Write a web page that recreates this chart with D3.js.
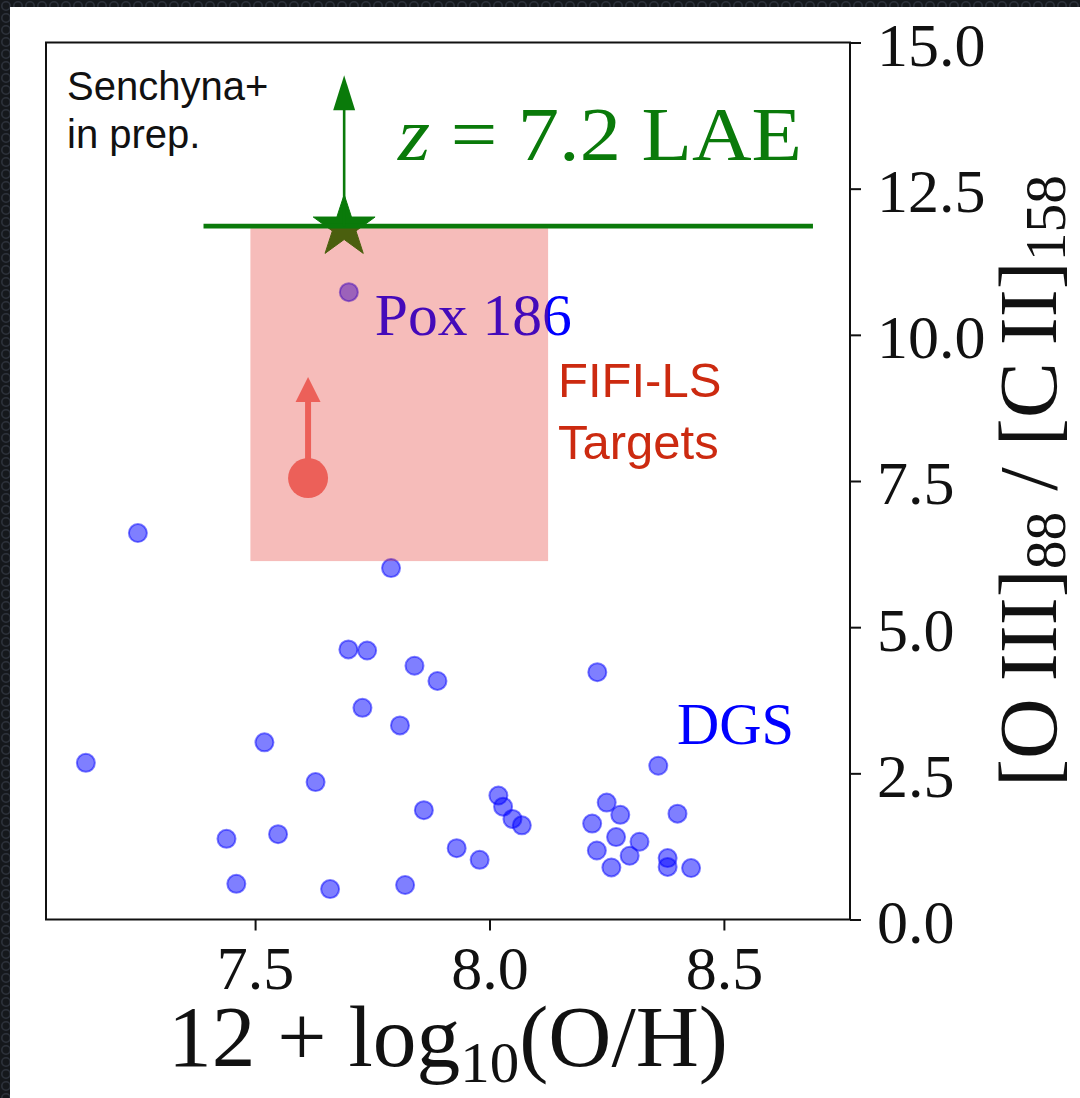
<!DOCTYPE html>
<html>
<head>
<meta charset="utf-8">
<script src="https://cdn.jsdelivr.net/npm/d3@7"></script>
<style>
  html, body { margin: 0; padding: 0; background: #1c1f24; }
  svg { display: block; }
</style>
</head>
<body>
<script>
// Dwarf Galaxy Survey: metallicity vs [OIII]88 / [CII]158
const dgsOH = [7.139, 7.250, 7.439, 7.460, 7.520, 7.549, 7.629, 7.660, 7.699, 7.739,
               7.729, 7.790, 7.809, 7.820, 7.840, 7.860, 7.889, 7.930, 7.979, 8.019,
               8.029, 8.049, 8.069, 8.219, 8.229, 8.230, 8.250, 8.260, 8.270, 8.279,
               8.299, 8.320, 8.360, 8.380, 8.380, 8.401, 8.430];
const dgsRatio = [2.68, 6.61, 1.38, 0.61, 3.03, 1.46, 2.35, 0.52, 4.62, 4.60,
                  3.62, 6.01, 3.32, 0.59, 4.34, 1.87, 4.08, 1.22, 1.02, 2.12,
                  1.93, 1.72, 1.61, 1.64, 1.18, 4.23, 2.00, 0.89, 1.41, 1.79,
                  1.09, 1.33, 2.63, 1.05, 0.90, 1.81, 0.88];

// Pox 186
const poxOH = [7.70];
const poxRatio = [10.73];

// z = 7.2 LAE: lower limit on the ratio, metallicity range
const laeOH = [7.69];
const laeRatio = [11.86];
const laeArrowTo = [14.44];
const laeOHRange = [7.39, 8.69];

// FIFI-LS targets: lower limit point and target region
const fifiOH = [7.613];
const fifiRatio = [7.55];
const fifiArrowTo = [9.28];
const fifiBoxOH = [7.49, 8.125];
const fifiBoxRatio = [6.13, 11.86];

const xTicks = [7.5, 8.0, 8.5];
const yTicks = [0, 2.5, 5.0, 7.5, 10.0, 12.5, 15.0];
const xDomain = [7.054, 8.769];
const yDomain = [0, 15];

const W = 1080, H = 1098;
const serif = "'Liberation Serif', 'DejaVu Serif', serif";
const sans = "'Liberation Sans', Arial, sans-serif";

const svg = d3.select("body").append("svg")
  .attr("width", W).attr("height", H)
  .attr("viewBox", `0 0 ${W} ${H}`);

// textured dark surround
const defs = svg.append("defs");
const pat = defs.append("pattern")
  .attr("id", "mesh").attr("width", 12).attr("height", 12)
  .attr("patternUnits", "userSpaceOnUse");
pat.append("rect").attr("width", 12).attr("height", 12).attr("fill", "#15181c");
pat.append("circle").attr("cx", 6).attr("cy", 6).attr("r", 4.2)
  .attr("fill", "none").attr("stroke", "#2c313a").attr("stroke-width", 1.6);
svg.append("rect").attr("width", W).attr("height", H).attr("fill", "url(#mesh)");
svg.append("rect").attr("x", 10).attr("y", 7).attr("width", W - 10).attr("height", H - 7)
  .attr("fill", "#ffffff");

const plot = { left: 46, right: 850, top: 42.5, bottom: 919.5 };
const x = d3.scaleLinear().domain(xDomain).range([plot.left, plot.right]);
const y = d3.scaleLinear().domain(yDomain).range([plot.bottom, plot.top]);

const g = svg.append("g");

// DGS galaxies
g.append("g").selectAll("circle")
  .data(dgsOH.map((v, i) => [v, dgsRatio[i]]))
  .join("circle")
  .attr("cx", d => x(d[0])).attr("cy", d => y(d[1])).attr("r", 9)
  .attr("fill", "#0000ff").attr("fill-opacity", 0.5)
  .attr("stroke", "#0000ff").attr("stroke-opacity", 0.5).attr("stroke-width", 2);

// Pox 186
g.append("g").selectAll("circle")
  .data(poxOH.map((v, i) => [v, poxRatio[i]]))
  .join("circle")
  .attr("cx", d => x(d[0])).attr("cy", d => y(d[1])).attr("r", 9)
  .attr("fill", "#0000ff").attr("fill-opacity", 0.5)
  .attr("stroke", "#0000ff").attr("stroke-opacity", 0.5).attr("stroke-width", 2);
g.append("text")
  .attr("x", x(poxOH[0]) + 26).attr("y", y(poxRatio[0]) + 43)
  .attr("font-family", serif).attr("font-size", 60).attr("fill", "#0000ff")
  .attr("textLength", 197).attr("lengthAdjust", "spacingAndGlyphs")
  .text("Pox 186");

// LAE star
function starPath(cx, cy, R) {
  const r = R * 0.381966;
  const pts = [];
  for (let k = 0; k < 10; k++) {
    const a = -Math.PI / 2 + k * Math.PI / 5;
    const rr = k % 2 === 0 ? R : r;
    pts.push([cx + rr * Math.cos(a), cy + rr * Math.sin(a)]);
  }
  return "M" + pts.map(p => p.join(",")).join("L") + "Z";
}
g.append("g").selectAll("path")
  .data(laeOH.map((v, i) => [v, laeRatio[i]]))
  .join("path")
  .attr("d", d => starPath(x(d[0]), y(d[1]) + 1, 32.5))
  .attr("fill", "#0a7a0a").attr("stroke", "#0a7a0a").attr("stroke-width", 1);

// FIFI-LS target region (translucent, drawn over the points beneath)
g.append("rect")
  .attr("x", x(fifiBoxOH[0])).attr("width", x(fifiBoxOH[1]) - x(fifiBoxOH[0]))
  .attr("y", y(fifiBoxRatio[1]) + 2).attr("height", y(fifiBoxRatio[0]) - y(fifiBoxRatio[1]) - 2)
  .attr("fill", "#e1201a").attr("fill-opacity", 0.3);

// LAE metallicity range line
g.append("line")
  .attr("x1", x(laeOHRange[0])).attr("x2", x(laeOHRange[1]))
  .attr("y1", y(laeRatio[0])).attr("y2", y(laeRatio[0]))
  .attr("stroke", "#0a7a0a").attr("stroke-width", 4.6);

// upward arrow helper (lower limits)
function upArrow(sel, cx, yFrom, yTip, shaftW, headW, headH, color) {
  sel.append("line")
    .attr("x1", cx).attr("x2", cx).attr("y1", yFrom).attr("y2", yTip + headH - 1)
    .attr("stroke", color).attr("stroke-width", shaftW);
  sel.append("path")
    .attr("d", `M${cx - headW / 2},${yTip + headH}L${cx},${yTip}L${cx + headW / 2},${yTip + headH}Z`)
    .attr("fill", color);
}
upArrow(g, x(laeOH[0]), y(laeRatio[0]), y(laeArrowTo[0]), 2.6, 22, 35, "#0a7a0a");

// FIFI-LS lower limit point
upArrow(g, x(fifiOH[0]), y(fifiRatio[0]), y(fifiArrowTo[0]), 6, 25, 25, "#ec6059");
g.append("circle")
  .attr("cx", x(fifiOH[0])).attr("cy", y(fifiRatio[0])).attr("r", 20)
  .attr("fill", "#ec6059");

// annotations
const ann = svg.append("g");
ann.append("text")
  .attr("x", 398).attr("y", 160)
  .attr("font-family", serif).attr("font-size", 76).attr("fill", "#0a7a0a")
  .attr("textLength", 404).attr("lengthAdjust", "spacingAndGlyphs")
  .call(t => {
    t.append("tspan").attr("font-style", "italic").text("z");
    t.append("tspan").text(" = 7.2 LAE");
  });

ann.append("text")
  .attr("x", 67).attr("y", 100)
  .attr("font-family", sans).attr("font-size", 40).attr("fill", "#111")
  .text("Senchyna+");
ann.append("text")
  .attr("x", 67).attr("y", 148)
  .attr("font-family", sans).attr("font-size", 40).attr("fill", "#111")
  .text("in prep.");

ann.append("text")
  .attr("x", 558).attr("y", 397)
  .attr("font-family", sans).attr("font-size", 49).attr("fill", "#cc2a10")
  .text("FIFI-LS");
ann.append("text")
  .attr("x", 558).attr("y", 459)
  .attr("font-family", sans).attr("font-size", 49).attr("fill", "#cc2a10")
  .text("Targets");

ann.append("text")
  .attr("x", 677).attr("y", 744)
  .attr("font-family", serif).attr("font-size", 60).attr("fill", "#0000ff")
  .attr("textLength", 117).attr("lengthAdjust", "spacingAndGlyphs")
  .text("DGS");

// frame
svg.append("rect")
  .attr("x", plot.left).attr("y", plot.top)
  .attr("width", plot.right - plot.left).attr("height", plot.bottom - plot.top)
  .attr("fill", "none").attr("stroke", "#111").attr("stroke-width", 2);

// axes
const fmt = d3.format(".1f");
const xAxis = svg.append("g")
  .attr("transform", `translate(0,${plot.bottom})`)
  .call(d3.axisBottom(x).tickValues(xTicks).tickFormat(fmt).tickSize(11).tickSizeOuter(0).tickPadding(14));
const yAxis = svg.append("g")
  .attr("transform", `translate(${plot.right},0)`)
  .call(d3.axisRight(y).tickValues(yTicks).tickFormat(fmt).tickSize(11).tickSizeOuter(0).tickPadding(16));
[xAxis, yAxis].forEach(a => {
  a.select(".domain").remove();
  a.selectAll(".tick line").attr("stroke", "#111").attr("stroke-width", 2);
  a.selectAll(".tick text").attr("font-family", serif).attr("font-size", 62).attr("fill", "#111");
});
yAxis.selectAll(".tick text").attr("dy", "0.37em");

// axis titles
svg.append("text")
  .attr("x", (plot.left + plot.right) / 2).attr("y", 1066)
  .attr("text-anchor", "middle")
  .attr("font-family", serif).attr("font-size", 86).attr("fill", "#111")
  .attr("textLength", 560).attr("lengthAdjust", "spacingAndGlyphs")
  .call(t => {
    t.append("tspan").text("12 + log");
    t.append("tspan").attr("font-size", 58).attr("dy", 16).text("10");
    t.append("tspan").attr("dy", -16).text("(O/H)");
  });

svg.append("text")
  .attr("transform", `translate(1056,${(plot.top + plot.bottom) / 2}) rotate(-90)`)
  .attr("text-anchor", "middle")
  .attr("font-family", serif).attr("font-size", 82).attr("fill", "#111")
  .attr("textLength", 612).attr("lengthAdjust", "spacingAndGlyphs")
  .call(t => {
    t.append("tspan").text("[O\u2009III]");
    t.append("tspan").attr("font-size", 56).attr("dy", 9).text("88");
    t.append("tspan").attr("dy", -9).text(" / [C\u2009II]");
    t.append("tspan").attr("font-size", 56).attr("dy", 9).text("158");
  });
</script>
</body>
</html>
